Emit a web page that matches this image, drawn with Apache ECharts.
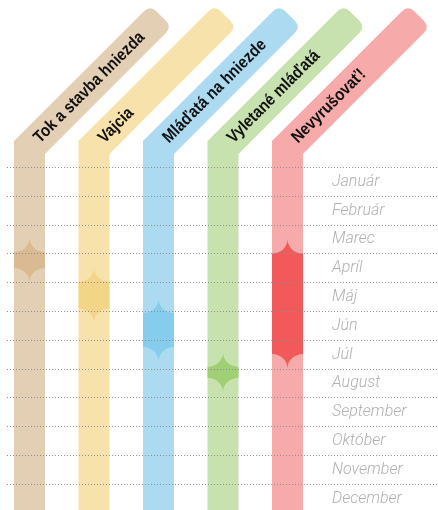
<!DOCTYPE html>
<html>
<head>
<meta charset="utf-8">
<script src="https://cdn.jsdelivr.net/npm/echarts@6/dist/echarts.min.js"></script>
<style>
  html, body { margin: 0; padding: 0; background: #ffffff; }
  #chart { width: 438px; height: 510px; }
</style>
</head>
<body>
<div id="chart"></div>
<script>
// obdobia hniezdenia (stĺpce) a mesiace (riadky)
const stages = ['Tok a stavba hniezda', 'Vajcia', 'Mláďatá na hniezde', 'Vyletané mláďatá', 'Nevyrušovať!'];
const months = ['Január', 'Február', 'Marec', 'Apríl', 'Máj', 'Jún', 'Júl', 'August', 'September', 'Október', 'November', 'December'];
// zvýraznené obdobie v mesiacoch (0 = začiatok januára)
const highlightStart = [2.95, 3.98, 5.06, 6.93, 3.0];
const highlightEnd = [3.5, 4.9, 6.24, 7.31, 6.48];

const LIGHT = ['#e3cfb4', '#f6e2aa', '#acdbf1', '#c7e2af', '#f6aaaa'];
const DARK = ['#d9ba93', '#f3d587', '#86ccec', '#a0d076', '#f1595a'];
const SQ2 = Math.SQRT2;

const HW = 15.5;        // polovica šírky stĺpca
const BEND = 19.8;      // ohyb nad mriežkou
const DIAG = 186;       // dĺžka šikmej časti
const R = 9;            // zaoblenie konca

function p(x, y) { return x.toFixed(2) + ',' + y.toFixed(2); }

function columnPath(cx, top, bottom) {
  const yb = top - BEND;
  const m = HW * (SQ2 - 1);
  const ex = cx + DIAG / SQ2;
  const ey = yb - DIAG / SQ2;
  const o = HW / SQ2;
  const ul = [ex - o, ey - o];
  const lr = [ex + o, ey + o];
  const r = R / SQ2;
  return 'M' + p(cx - HW, bottom) +
    ' L' + p(cx - HW, yb - m) +
    ' L' + p(ul[0] - r, ul[1] + r) +
    ' Q' + p(ul[0], ul[1]) + ' ' + p(ul[0] + r, ul[1] + r) +
    ' L' + p(lr[0] - r, lr[1] - r) +
    ' Q' + p(lr[0], lr[1]) + ' ' + p(lr[0] - r, lr[1] + r) +
    ' L' + p(cx + HW, yb + m) +
    ' L' + p(cx + HW, bottom) + ' Z';
}

function starPath(cx, y1, y2, h) {
  const k = 0.552;
  const x0 = cx - HW;
  const x1 = cx + HW;
  return 'M' + p(x0, y1) +
    ' C' + p(x0 + k * HW, y1) + ' ' + p(cx, y1 - h + k * h) + ' ' + p(cx, y1 - h) +
    ' C' + p(cx, y1 - h + k * h) + ' ' + p(x1 - k * HW, y1) + ' ' + p(x1, y1) +
    ' L' + p(x1, y2) +
    ' C' + p(x1 - k * HW, y2) + ' ' + p(cx, y2 + h - k * h) + ' ' + p(cx, y2 + h) +
    ' C' + p(cx, y2 + h - k * h) + ' ' + p(x0 + k * HW, y2) + ' ' + p(x0, y2) + ' Z';
}

function renderColumn(params, api) {
  const i = api.value(0);
  const top = api.coord([i, 0]);
  const bottom = api.coord([i, 12]);
  const s = api.coord([i, api.value(1)]);
  const e = api.coord([i, api.value(2)]);
  const half = api.size([0, 0.5])[1];
  const cx = top[0];
  const yb = top[1] - BEND;
  const t = 10;
  return {
    type: 'group',
    children: [
      {
        type: 'path',
        shape: { pathData: columnPath(cx, top[1], bottom[1]) },
        style: { fill: LIGHT[i] }
      },
      {
        type: 'path',
        shape: { pathData: starPath(cx, s[1], e[1], half) },
        style: { fill: DARK[i] }
      },
      {
        type: 'text',
        x: cx + t / SQ2,
        y: yb - t / SQ2,
        rotation: Math.PI / 4,
        scaleX: 0.88,
        style: {
          text: stages[i],
          fill: '#111111',
          font: 'bold 17px "Liberation Sans", Arial, sans-serif',
          align: 'left',
          verticalAlign: 'middle'
        }
      }
    ]
  };
}

const chart = echarts.init(document.getElementById('chart'), null, { renderer: 'canvas' });

chart.setOption({
  animation: false,
  grid: { left: 7, right: 0, top: 167.3, height: 345.6, outerBoundsMode: 'none' },
  xAxis: {
    type: 'value',
    min: -22.5 / 64.5,
    max: 408.5 / 64.5,
    show: false
  },
  yAxis: [
    {
      type: 'category',
      data: months,
      inverse: true,
      position: 'left',
      z: 5,
      axisLine: { show: false },
      axisTick: { show: false },
      axisLabel: {
        inside: true,
        margin: 325,
        color: '#b0b0b0',
        fontSize: 16,
        fontStyle: 'italic',
        fontWeight: 300,
        fontFamily: 'Roboto, sans-serif'
      },
      splitLine: {
        show: true,
        lineStyle: { color: '#8f8f8f', width: 1, type: [1, 2] }
      }
    },
    {
      type: 'value',
      min: 0,
      max: 12,
      inverse: true,
      position: 'right',
      show: false
    }
  ],
  series: [
    {
      type: 'custom',
      yAxisIndex: 1,
      clip: false,
      renderItem: renderColumn,
      encode: { x: 0, y: [1, 2] },
      data: stages.map((_, i) => [i, highlightStart[i], highlightEnd[i]])
    }
  ]
});
</script>
</body>
</html>
